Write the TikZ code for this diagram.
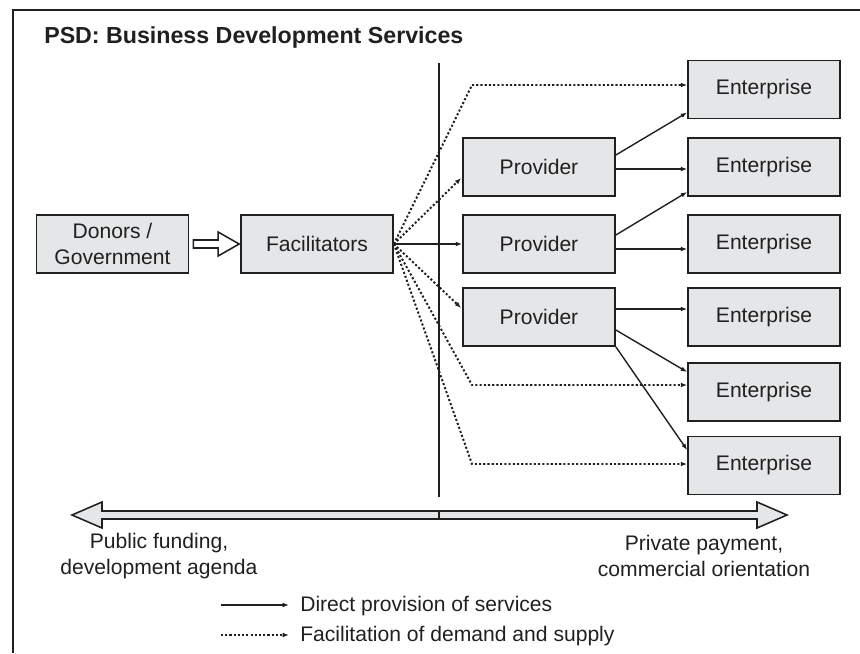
\documentclass[tikz,border=0pt]{standalone}
\usepackage{fontspec}
\setmainfont{Liberation Sans}
\usetikzlibrary{arrows.meta,calc}
\definecolor{boxgray}{RGB}{229,230,232}
\definecolor{linegray}{RGB}{32,32,32}

\begin{document}
\begin{tikzpicture}[x=0.025cm, y=-0.025cm,
    actor/.style={draw=linegray, line width=1.2pt, rectangle, fill=boxgray, minimum width=3.8cm, minimum height=1.45cm, align=center, inner sep=0pt, text=linegray, font=\fontsize{15}{18}\selectfont},
    direct/.style={draw=linegray, line width=1pt, -{Latex[length=4.5pt,width=3.4pt]}},
    facil/.style={direct, line width=1.4pt, dash pattern=on 1.5pt off 1.5pt},
    fatarrow/.style={draw=linegray, line width=1.1pt, line join=miter},
    sidetext/.style={align=center, inner sep=0pt, text=linegray, font=\fontsize{15}{18.5}\selectfont}
]
\useasboundingbox (0,0) rectangle (860,653);

% Frame
\draw[linegray, line width=1pt] (860,10) -- (13,10) -- (13,653);
\node[anchor=base west, inner sep=0pt, text=linegray, font=\fontsize{16.5}{20}\selectfont\bfseries] (title) at (44,43) {PSD: Business Development Services};

% Actors
\node[actor] (don) at (112.5,244) {Donors /\\Government};
\node[actor] (fac) at (317,244) {Facilitators};
\node[actor] (pro1) at (539,167) {Provider};
\node[actor] (pro2) at (539,244) {Provider};
\node[actor] (pro3) at (539,317) {Provider};
\node[actor] (ent1) at (764,89.5) {Enterprise};
\node[actor] (ent2) at (764,167) {Enterprise};
\node[actor] (ent3) at (764,244) {Enterprise};
\node[actor] (ent4) at (764,317) {Enterprise};
\node[actor] (ent5) at (764,392) {Enterprise};
\node[actor] (ent6) at (764,465.5) {Enterprise};

% Divider
\draw[linegray, line width=1.3pt] (439,63) -- (439,497);

% Funding arrow
\draw[fatarrow, fill=white] ($(don.east)+(4,-4)$) -- ($(fac.west)+(-22,-4)$) -- ($(fac.west)+(-22,-12)$) -- ($(fac.west)+(-1,0)$)
    -- ($(fac.west)+(-22,12)$) -- ($(fac.west)+(-22,4)$) -- ($(don.east)+(4,4)$) -- cycle;

% Facilitation
\coordinate (b1) at (472,85);
\coordinate (b5) at (472,385);
\coordinate (b6) at (472,464);
\draw[facil] (fac.east) -- (b1) -- (b1 -| ent1.west);
\draw[facil] (fac.east) -- ($(pro1.west)+(-1,11)$);
\draw[direct] (fac.east) -- (pro2.west);
\draw[facil] (fac.east) -- ($(pro3.west)+(-1,-9)$);
\draw[facil] (fac.east) -- (b5) -- (b5 -| ent5.west);
\draw[facil] (fac.east) -- (b6) -- (b6 -| ent6.west);

% Direct provision
\draw[direct] ($(pro1.east)+(0,-12)$) -- ($(ent1.west)+(0,23)$);
\draw[direct] ($(pro1.east)+(0,2)$) -- ($(ent2.west)+(0,2)$);
\draw[direct] ($(pro2.east)+(0,-9)$) -- ($(ent2.west)+(0,25)$);
\draw[direct] ($(pro2.east)+(0,5)$) -- ($(ent3.west)+(0,5)$);
\draw[direct] ($(pro3.east)+(0,-8)$) -- ($(ent4.west)+(0,-8)$);
\draw[direct] ($(pro3.east)+(0,13)$) -- ($(ent5.west)+(0,-20)$);
\draw[direct] (pro3.south east) -- ($(ent6.west)+(0,-15.5)$);

% Public to private axis
\draw[fatarrow, fill=boxgray] (439,511) -- (102,511) -- (102,502) -- (72,515) -- (102,528) -- (102,519) -- (439,519) -- cycle;
\draw[fatarrow, fill=boxgray] (439,511) -- (757,511) -- (757,502) -- (787,515) -- (757,528) -- (757,519) -- (439,519) -- cycle;
\node[sidetext] (pub) at (159,556) {Public funding,\\development agenda};
\node[sidetext] (priv) at (704,556) {Private payment,\\commercial orientation};

% Legend
\coordinate (d1) at (221,605);
\coordinate (d2) at (289,605);
\coordinate (f1) at (221,635);
\coordinate (f2) at (289,635);
\draw[direct] (d1) -- (d2);
\draw[facil] (f1) -- (f2);
\node[sidetext, anchor=west] (legd) at (300,606) {Direct provision of services};
\node[sidetext, anchor=west] (legf) at (300,636) {Facilitation of demand and supply};

\end{tikzpicture}
\end{document}
